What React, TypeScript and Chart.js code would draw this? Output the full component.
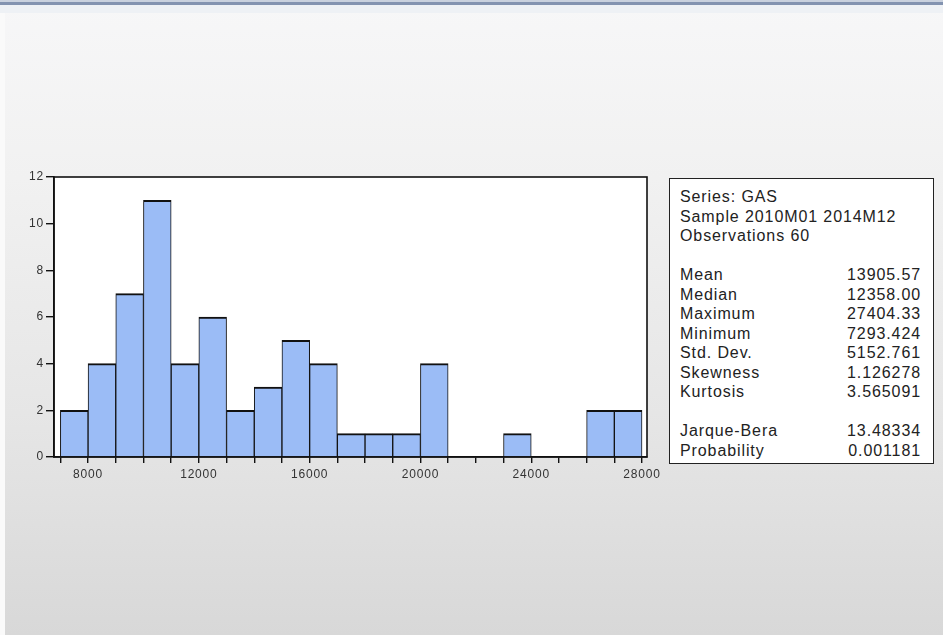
import React, { useEffect, useRef } from "react";
import { Chart, registerables } from "chart.js";

Chart.register(...registerables);

// Histogram bins: lower edge of each 1000-wide bin and its count
const binStarts = [
  7000, 8000, 9000, 10000, 11000, 12000, 13000, 14000, 15000, 16000, 17000,
  18000, 19000, 20000, 21000, 22000, 23000, 24000, 25000, 26000, 27000,
];
const binCounts = [2, 4, 7, 11, 4, 6, 2, 3, 5, 4, 1, 1, 1, 4, 0, 0, 1, 0, 0, 2, 2];
const binWidth = 1000;

// Axis ticks: a mark at every bin edge, a label every 4000
const xTickValues = [
  7000, 8000, 9000, 10000, 11000, 12000, 13000, 14000, 15000, 16000, 17000,
  18000, 19000, 20000, 21000, 22000, 23000, 24000, 25000, 26000, 27000, 28000,
];
const xLabelValues = [8000, 12000, 16000, 20000, 24000, 28000];
const yTickValues = [0, 2, 4, 6, 8, 10, 12];

// Descriptive statistics panel
const headerLines = ["Series: GAS", "Sample 2010M01 2014M12", "Observations 60"];
const statNames = ["Mean", "Median", "Maximum", "Minimum", "Std. Dev.", "Skewness", "Kurtosis"];
const statValues = ["13905.57", "12358.00", "27404.33", "7293.424", "5152.761", "1.126278", "3.565091"];
const testNames = ["Jarque-Bera", "Probability"];
const testValues = ["13.48334", "0.001181"];

const FONT = "'Liberation Sans', Arial, sans-serif";

// Wide glyph spacing for the axis labels
const spacingPlugin = {
  id: "labelSpacing",
  beforeUpdate(chart: any) {
    (chart.ctx as any).letterSpacing = "0.8px";
  },
  beforeDraw(chart: any) {
    (chart.ctx as any).letterSpacing = "0.8px";
  },
};

const framePlugin = {
  id: "frame",
  beforeDraw(chart: any) {
    const { ctx, chartArea } = chart;
    ctx.save();
    ctx.fillStyle = "#ffffff";
    ctx.fillRect(chartArea.left, chartArea.top, chartArea.right - chartArea.left, chartArea.bottom - chartArea.top);
    ctx.restore();
  },
  afterDatasetsDraw(chart: any) {
    const { ctx, chartArea } = chart;
    ctx.save();
    ctx.strokeStyle = "#111111";
    ctx.lineWidth = 1.6;
    ctx.strokeRect(chartArea.left, chartArea.top, chartArea.right - chartArea.left, chartArea.bottom - chartArea.top);
    ctx.restore();
  },
};

function Histogram() {
  const ref = useRef<HTMLCanvasElement | null>(null);

  useEffect(() => {
    if (!ref.current) return;
    const points = binStarts.map((s, i) => ({ x: s + binWidth / 2, y: binCounts[i] }));
    const chart = new Chart(ref.current, {
      type: "bar",
      data: {
        datasets: [
          {
            data: points as any,
            backgroundColor: "#9bbcf6",
            borderColor: "#111111",
            borderWidth: { top: 2, left: 1, right: 1, bottom: 0 } as any,
            borderSkipped: false as any,
            barPercentage: 1,
            categoryPercentage: 1,
          },
        ],
      },
      options: {
        responsive: false,
        animation: false,
        devicePixelRatio: 1,
        layout: { padding: { left: 0, top: 177, right: 296, bottom: 148 } },
        plugins: { legend: { display: false }, tooltip: { enabled: false } },
        scales: {
          x: {
            type: "linear",
            offset: false,
            min: 6770,
            max: 28180,
            afterBuildTicks: (s: any) => {
              s.ticks = xTickValues.map((v) => ({ value: v }));
            },
            afterFit: (s: any) => {
              s.height = 30;
            },
            grid: { offset: false, drawOnChartArea: false, drawTicks: true, tickLength: 6, color: "#111111", lineWidth: 1.4 },
            border: { display: true, color: "#111111", width: 1.6 },
            ticks: {
              autoSkip: false,
              maxRotation: 0,
              padding: 4,
              color: "#333333",
              font: { family: FONT, size: 12 },
              callback: (v: any) => (xLabelValues.includes(Number(v)) ? String(v) : ""),
            },
          },
          y: {
            min: yTickValues[0],
            max: yTickValues[yTickValues.length - 1],
            afterBuildTicks: (s: any) => {
              s.ticks = yTickValues.map((v) => ({ value: v }));
            },
            afterFit: (s: any) => {
              s.width = 54;
            },
            grid: { drawOnChartArea: false, drawTicks: true, tickLength: 8, color: "#111111", lineWidth: 1.4 },
            border: { display: true, color: "#111111", width: 1.6 },
            ticks: {
              padding: 2,
              color: "#333333",
              font: { family: FONT, size: 12 },
            },
          },
        },
      },
      plugins: [spacingPlugin, framePlugin],
    });
    return () => chart.destroy();
  }, []);

  return (
    <canvas
      ref={ref}
      width={943}
      height={635}
      style={{ position: "absolute", left: 0, top: 0, width: 943, height: 635 }}
    />
  );
}

function StatsBox() {
  const left = 669;
  const top = 178;
  const rowH = 19.5;
  const firstY = 196 - top;
  const rows: { name: string; value?: string; y: number }[] = [];
  headerLines.forEach((t, i) => rows.push({ name: t, y: firstY + i * rowH }));
  statNames.forEach((t, i) => rows.push({ name: t, value: statValues[i], y: firstY + (i + 4) * rowH }));
  testNames.forEach((t, i) => rows.push({ name: t, value: testValues[i], y: firstY + (i + 12) * rowH }));
  const textStyle: React.CSSProperties = {
    position: "absolute",
    fontFamily: FONT,
    fontSize: 16,
    letterSpacing: 0.9,
    color: "#222222",
    lineHeight: "18px",
    whiteSpace: "nowrap",
  };
  return (
    <div
      style={{
        position: "absolute",
        left,
        top,
        width: 265,
        height: 286,
        boxSizing: "border-box",
        border: "1.5px solid #222222",
        background: "#ffffff",
      }}
    >
      {rows.map((r, i) => (
        <React.Fragment key={i}>
          <div style={{ ...textStyle, left: 10, top: r.y - 9 }}>{r.name}</div>
          {r.value !== undefined && (
            <div style={{ ...textStyle, right: 12, top: r.y - 9 }}>{r.value}</div>
          )}
        </React.Fragment>
      ))}
    </div>
  );
}

export default function App() {
  return (
    <div
      style={{
        position: "fixed",
        left: 0,
        top: 0,
        width: 943,
        height: 635,
        overflow: "hidden",
        background: "#fafafa",
      }}
    >
      <div
        style={{
          position: "absolute",
          left: 5,
          top: 0,
          right: 0,
          bottom: 0,
          background: "linear-gradient(to bottom, #f7f7f8 0%, #f1f1f1 28%, #e6e6e6 65%, #d8d8d8 100%)",
        }}
      />
      <div style={{ position: "absolute", left: 0, top: 0, width: 943, height: 2, background: "#c9d1de" }} />
      <div style={{ position: "absolute", left: 0, top: 2, width: 943, height: 3, background: "#8393b0" }} />
      <div style={{ position: "absolute", left: 0, top: 5, width: 943, height: 8, background: "#eef1f5" }} />
      <Histogram />
      <StatsBox />
    </div>
  );
}
